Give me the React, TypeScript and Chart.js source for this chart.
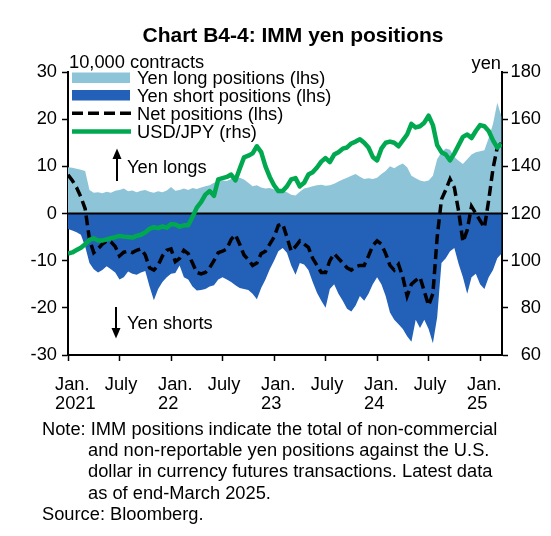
import React, { useEffect, useRef } from 'react';
import { Chart, registerables } from 'chart.js';

Chart.register(...registerables);

// months since Jan. 2021 (half-month steps)
const MONTHS = [
  0, 0.5, 1, 1.5, 2, 2.5, 3, 3.5, 4, 4.5, 5, 5.5, 6, 6.5, 7, 7.5, 8, 8.5, 9, 9.5,
  10, 10.5, 11, 11.5, 12, 12.5, 13, 13.5, 14, 14.5, 15, 15.5, 16, 16.5, 17, 17.5, 18, 18.5, 19, 19.5,
  20, 20.5, 21, 21.5, 22, 22.5, 23, 23.5, 24, 24.5, 25, 25.5, 26, 26.5, 27, 27.5, 28, 28.5, 29, 29.5,
  30, 30.5, 31, 31.5, 32, 32.5, 33, 33.5, 34, 34.5, 35, 35.5, 36, 36.5, 37, 37.5, 38, 38.5, 39, 39.5,
  40, 40.5, 41, 41.5, 42, 42.5, 43, 43.5, 44, 44.5, 45, 45.5, 46, 46.5, 47, 47.5, 48, 48.5, 49, 49.5,
  50, 50.5,
];

// Yen long positions (lhs, 10,000 contracts)
const LONG = [
  9.8, 9.7, 9.5, 9.3, 9.0, 5.0, 4.4, 4.5, 4.3, 4.6, 4.4, 4.8, 5.0, 5.3, 4.7, 4.9, 4.5, 4.8, 5.0, 4.6,
  4.4, 4.7, 4.5, 4.9, 5.6, 4.8, 5.0, 5.3, 5.0, 5.4, 5.2, 5.5, 5.8, 6.0, 6.5, 6.8, 7.0, 6.9, 7.3, 7.5,
  7.6, 7.2, 6.5, 5.8, 6.0, 5.5, 5.3, 5.4, 5.1, 5.0, 4.9, 4.5, 4.0, 3.8, 4.6, 5.3, 5.5, 5.8, 6.0, 6.1,
  5.9, 6.0, 6.3, 6.8, 7.2, 7.6, 8.0, 8.4, 7.8, 7.3, 7.5, 7.3, 7.6, 8.4, 9.0, 10.0, 9.6, 10.2, 10.6, 9.8,
  8.0, 7.5, 7.0, 6.8, 7.0, 8.0, 11.5, 13.0, 13.8, 13.5, 12.0, 11.2, 10.5, 11.5, 12.5, 13.0, 13.2, 13.4, 16.0, 19.0,
  23.5, 20.5,
];

// Yen short positions (lhs, 10,000 contracts)
const SHORT = [
  -3.3, -3.6, -4.0, -4.5, -7.0, -10.5, -11.8, -12.5, -12.0, -11.2, -11.8, -12.5, -14.0, -13.5, -12.3, -12.8, -13.0, -12.5, -12.2, -15.5,
  -18.4, -16.0, -14.5, -13.5, -12.8, -12.6, -11.0, -13.5, -14.0, -15.5, -16.3, -16.2, -16.0, -15.5, -15.2, -14.0, -13.5, -14.0, -14.5, -15.2,
  -15.8, -16.0, -16.2, -17.0, -18.2, -15.8, -14.0, -11.8, -10.0, -8.0, -7.3, -8.3, -11.0, -13.0, -10.5, -10.8, -12.0, -14.5, -16.8, -18.5,
  -20.0, -16.0, -15.0, -17.0, -18.5, -20.2, -20.8, -19.5, -17.5, -18.5, -17.0, -15.0, -13.5, -15.0, -17.5, -21.0, -22.5, -23.5, -24.5, -26.0,
  -27.2, -22.5, -24.3, -22.5, -24.5, -27.5, -22.0, -10.5, -9.5, -8.0, -7.3, -10.7, -13.5, -17.0, -13.5, -12.8, -15.0, -16.0, -13.5, -12.0,
  -9.5, -8.5,
];

// Net positions (lhs, 10,000 contracts)
const NET = [
  8.2, 7.0, 5.5, 3.5, 1.0, -5.5, -8.3, -7.5, -6.5, -5.8, -6.0, -7.0, -9.0, -8.2, -8.0, -8.3, -7.8, -7.5, -8.8, -11.5,
  -12.0, -11.0, -9.0, -7.8, -7.5, -10.2, -9.5, -7.8, -8.5, -10.5, -12.5, -12.8, -12.5, -11.5, -10.0, -8.3, -8.0, -7.5, -5.5, -4.5,
  -6.5, -8.8, -9.8, -11.0, -10.5, -8.5, -8.0, -6.5, -5.0, -2.5, -2.2, -5.0, -8.0, -7.0, -5.8, -6.5, -7.2, -9.5, -11.0, -12.5,
  -12.5, -10.0, -8.5, -9.5, -10.5, -11.5, -12.0, -11.3, -11.0, -11.0, -9.0, -6.8, -5.8, -6.5, -8.5, -11.0, -12.0, -10.8, -13.5, -17.5,
  -15.0, -14.2, -13.5, -16.5, -19.5, -17.0, -5.0, 3.0, 5.0, 7.3, 5.5, 0.5, -6.0, -3.5, 1.5, 0.0, -1.5, -3.0, 2.8, 9.5,
  14.0, 15.0,
];

// USD/JPY (rhs, yen)
const USDJPY = [
  103.0, 103.5, 104.5, 105.5, 107.0, 108.8, 109.5, 108.5, 108.5, 109.0, 109.5, 110.0, 110.5, 110.2, 110.0, 109.8, 110.5, 111.0, 112.0, 113.5,
  114.2, 113.8, 114.5, 114.0, 115.5, 115.3, 114.4, 115.0, 115.0, 118.5, 122.5, 124.8, 128.0, 129.5, 127.5, 134.5, 135.0, 135.5, 136.5, 134.0,
  139.0, 143.8, 144.5, 145.5, 148.5, 146.0, 140.0, 135.5, 132.0, 129.5, 129.5, 131.5, 134.5, 135.0, 131.5, 133.0, 136.5, 137.5, 139.5, 142.0,
  143.5, 141.8, 145.0, 146.0, 147.5, 148.0, 149.7, 150.5, 151.5, 150.0, 148.0, 144.0, 142.5, 147.5, 150.0, 150.5, 150.0, 148.5, 151.0, 153.5,
  158.0, 156.5, 157.0, 158.5, 161.5, 157.5, 149.0, 146.0, 145.0, 142.5, 145.5, 149.0, 152.5, 153.5, 152.0, 155.0, 157.5, 157.0, 155.0, 151.0,
  148.0, 149.5,
];

const X_TICKS = [0, 6, 12, 18, 24, 30, 36, 42, 48];
const X_LABELS = [
  ['Jan.', '2021'], ['July'], ['Jan.', '22'], ['July'], ['Jan.', '23'], ['July'], ['Jan.', '24'], ['July'], ['Jan.', '25'],
];

const TITLE = 'Chart B4-4: IMM yen positions';
const LEFT_UNIT = '10,000 contracts';
const RIGHT_UNIT = 'yen';
const LEGEND_LABELS = ['Yen long positions (lhs)', 'Yen short positions (lhs)', 'Net positions (lhs)', 'USD/JPY (rhs)'];
const NOTE_LINES = [
  'Note: IMM positions indicate the total of non-commercial',
  'and non-reportable yen positions against the U.S.',
  'dollar in currency futures transactions. Latest data',
  'as of end-March 2025.',
  'Source: Bloomberg.',
];
const NOTE_INDENT = [false, true, true, true, false];

const FONT = '"Liberation Sans", Arial, Helvetica, sans-serif';
const LIGHT = '#8ec4d8';
const DARK = '#2360b8';
const GREEN = '#00a94f';

const overlayPlugin = {
  id: 'overlay',
  afterDatasetDraw(chart: any, args: any) {
    if (args.index !== 2) return;
    const { ctx, chartArea, scales } = chart;
    const y0 = scales.y.getPixelForValue(0);
    ctx.save();
    ctx.strokeStyle = '#000';
    ctx.lineWidth = 2;
    ctx.beginPath();
    ctx.moveTo(chartArea.left, y0);
    ctx.lineTo(chartArea.right, y0);
    ctx.stroke();
    ctx.restore();
  },
  afterDraw(chart: any) {
    const { ctx, scales } = chart;
    ctx.save();
    ctx.fillStyle = '#000';
    ctx.textBaseline = 'alphabetic';

    // title
    ctx.font = `bold 21px ${FONT}`;
    ctx.textAlign = 'center';
    ctx.fillText(TITLE, 293, 41.5);

    ctx.font = `18.3px ${FONT}`;
    ctx.textAlign = 'left';
    ctx.fillText(LEFT_UNIT, 69, 68);
    ctx.textAlign = 'right';
    ctx.fillText(RIGHT_UNIT, 501, 69);

    // legend
    ctx.textAlign = 'left';
    const rows = [77.5, 95.5, 113.5, 131.5];
    ctx.fillStyle = LIGHT;
    ctx.fillRect(72, 72.5, 58, 10.5);
    ctx.fillStyle = DARK;
    ctx.fillRect(72, 90, 58, 10.5);
    ctx.strokeStyle = '#000';
    ctx.lineWidth = 3.5;
    ctx.setLineDash([11, 5]);
    ctx.beginPath();
    ctx.moveTo(72, 113.3);
    ctx.lineTo(131, 113.3);
    ctx.stroke();
    ctx.setLineDash([]);
    ctx.strokeStyle = GREEN;
    ctx.lineWidth = 4.5;
    ctx.beginPath();
    ctx.moveTo(72, 131.5);
    ctx.lineTo(131, 131.5);
    ctx.stroke();
    ctx.fillStyle = '#000';
    LEGEND_LABELS.forEach((t, i) => ctx.fillText(t, 137, rows[i] + 6.3));

    // arrows
    ctx.strokeStyle = '#000';
    ctx.lineWidth = 2;
    ctx.beginPath();
    ctx.moveTo(117, 158);
    ctx.lineTo(117, 181);
    ctx.stroke();
    ctx.beginPath();
    ctx.moveTo(117, 148.5);
    ctx.lineTo(112.5, 159);
    ctx.lineTo(121.5, 159);
    ctx.closePath();
    ctx.fill();
    ctx.fillText('Yen longs', 127, 173);

    ctx.beginPath();
    ctx.moveTo(116, 307);
    ctx.lineTo(116, 329);
    ctx.stroke();
    ctx.beginPath();
    ctx.moveTo(116, 338.5);
    ctx.lineTo(111.5, 328);
    ctx.lineTo(120.5, 328);
    ctx.closePath();
    ctx.fill();
    ctx.fillText('Yen shorts', 127, 329);

    // x tick labels
    X_TICKS.forEach((v, i) => {
      const px = scales.x.getPixelForValue(v);
      const lines = X_LABELS[i];
      if (lines.length > 1) {
        ctx.textAlign = 'left';
        ctx.fillText(lines[0], px - 13, 390);
        ctx.fillText(lines[1], px - 13, 409);
      } else {
        ctx.textAlign = 'center';
        ctx.fillText(lines[0], px + 1.5, 389.5);
      }
    });

    // notes
    ctx.textAlign = 'left';
    NOTE_LINES.forEach((t, i) => {
      ctx.fillText(t, NOTE_INDENT[i] ? 88 : 42, 435 + i * 21.2);
    });
    ctx.restore();
  },
};

export default function App() {
  const ref = useRef<HTMLCanvasElement | null>(null);

  useEffect(() => {
    if (!ref.current) return;
    const tickFont = { family: FONT, size: 18.3 };
    const chart = new Chart(ref.current, {
      type: 'line',
      data: {
        labels: MONTHS,
        datasets: [
          {
            label: 'USD/JPY (rhs)',
            data: USDJPY,
            yAxisID: 'y2',
            borderColor: GREEN,
            borderWidth: 4.5,
            pointRadius: 0,
            fill: false,
            tension: 0,
            borderJoinStyle: 'round',
          },
          {
            label: 'Net positions (lhs)',
            data: NET,
            yAxisID: 'y',
            borderColor: '#000',
            borderWidth: 3.5,
            borderDash: [10, 5],
            pointRadius: 0,
            fill: false,
            tension: 0,
          },
          {
            label: 'Yen long positions (lhs)',
            data: LONG,
            yAxisID: 'y',
            borderWidth: 0,
            borderColor: LIGHT,
            backgroundColor: LIGHT,
            pointRadius: 0,
            fill: 'origin',
            tension: 0,
          },
          {
            label: 'Yen short positions (lhs)',
            data: SHORT,
            yAxisID: 'y',
            borderWidth: 0,
            borderColor: DARK,
            backgroundColor: DARK,
            pointRadius: 0,
            fill: 'origin',
            tension: 0,
          },
        ],
      } as any,
      options: {
        animation: false,
        responsive: false,
        devicePixelRatio: 1,
        layout: { padding: { top: 72, left: 0, right: 10, bottom: 0 } },
        plugins: {
          legend: { display: false },
          tooltip: { enabled: false },
          title: { display: false },
        },
        scales: {
          x: {
            type: 'linear',
            min: 0,
            max: 50.55,
            afterBuildTicks: (s: any) => {
              s.ticks = X_TICKS.map((v) => ({ value: v }));
            },
            afterFit: (s: any) => {
              s.height = 536 - 355;
            },
            ticks: { display: false },
            grid: { drawOnChartArea: false, drawTicks: true, tickLength: 6, tickColor: '#000', tickWidth: 1.5 },
            border: { display: true, color: '#000', width: 2 },
          },
          y: {
            position: 'left',
            min: -30,
            max: 30,
            afterFit: (s: any) => {
              s.width = 68;
            },
            ticks: { stepSize: 10, font: tickFont, color: '#000', padding: 5 },
            grid: { drawOnChartArea: false, drawTicks: true, tickLength: 6, tickColor: '#000', tickWidth: 1.5 },
            border: { display: true, color: '#000', width: 2 },
          },
          y2: {
            position: 'right',
            min: 60,
            max: 180,
            afterFit: (s: any) => {
              s.width = 39;
            },
            ticks: { stepSize: 20, font: tickFont, color: '#000', padding: 4, crossAlign: 'far' },
            grid: { drawOnChartArea: false, drawTicks: true, tickLength: 6, tickColor: '#000', tickWidth: 1.5 },
            border: { display: true, color: '#000', width: 2 },
          },
        },
      } as any,
      plugins: [overlayPlugin],
    });
    return () => chart.destroy();
  }, []);

  return (
    <div style={{ position: 'absolute', left: 0, top: 0, width: 551, height: 536, background: '#fff' }}>
      <canvas ref={ref} width={551} height={536} style={{ display: 'block' }} />
    </div>
  );
}
